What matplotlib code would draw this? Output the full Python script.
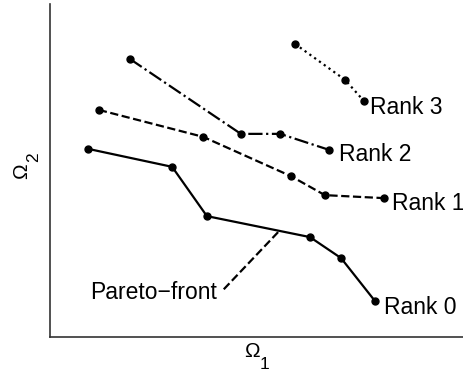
import matplotlib
matplotlib.use("Agg")
import matplotlib.pyplot as plt

plt.rcParams['font.family'] = ['Liberation Sans', 'DejaVu Sans']

rank0_x = [0.92, 2.95, 3.79, 6.28, 7.03, 7.85]
rank0_y = [5.65, 5.11, 3.63, 3.00, 2.37, 1.08]
rank1_x = [1.18, 3.70, 5.82, 6.64, 8.07]
rank1_y = [6.82, 6.01, 4.83, 4.26, 4.17]
rank2_x = [1.93, 4.61, 5.56, 6.74]
rank2_y = [8.35, 6.10, 6.10, 5.62]
rank3_x = [5.92, 7.13, 7.58]
rank3_y = [8.80, 7.72, 7.09]
pareto_x = [5.51, 4.18]
pareto_y = [3.15, 1.41]

labels = ["Rank 0", "Rank 1", "Rank 2", "Rank 3"]
label_x = [8.07, 8.26, 6.98, 7.73]
label_y = [0.90, 4.02, 5.47, 6.88]

W, H = 464, 371
fig = plt.figure(figsize=(W/100, H/100), dpi=100)
ax = fig.add_axes([50/W, 1-337/H, 1-50/W, 333/H])

lw = 1.6
ms = 5
ax.plot(rank0_x, rank0_y, '-', color='black', lw=lw, marker='o', ms=ms)
ax.plot(rank1_x, rank1_y, '--', color='black', lw=lw, marker='o', ms=ms)
ax.plot(rank2_x, rank2_y, '-.', color='black', lw=lw, marker='o', ms=ms)
ax.plot(rank3_x, rank3_y, ':', color='black', lw=lw, marker='o', ms=ms)
ax.plot(pareto_x, pareto_y, '--', color='black', lw=lw)

for t, x, y in zip(labels, label_x, label_y):
    ax.text(x, y, t, fontsize=16.5, ha='left', va='center')
ax.text(4.03, 1.35, "Pareto\u2212front", fontsize=16.5, ha='right', va='center')

ax.set_xlim(0, 10)
ax.set_ylim(0, 10)
ax.set_xticks([])
ax.set_yticks([])
ax.spines['top'].set_visible(False)
ax.spines['right'].set_visible(False)
for s in ['left', 'bottom']:
    ax.spines[s].set_color('#333333')
    ax.spines[s].set_linewidth(1.2)

# axis labels: Omega with large subscripts
fig.text(252/W, 1-357/H, '\u03a9', fontsize=15, ha='center', va='baseline')
fig.text(260/W, 1-369/H, '1', fontsize=12.5, ha='left', va='baseline')
fig.text(27/W, 1-171/H, '\u03a9', fontsize=15, rotation=90,
         rotation_mode='anchor', ha='center', va='baseline')
fig.text(38/W, 1-162/H, '2', fontsize=12.5, rotation=90,
         rotation_mode='anchor', ha='left', va='baseline')

fig.savefig('out.png', dpi=100)
